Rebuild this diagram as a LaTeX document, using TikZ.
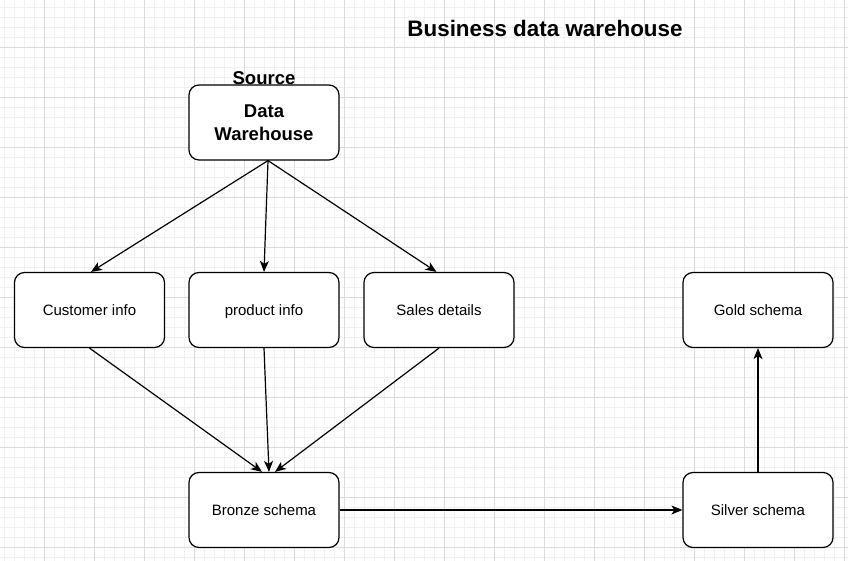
\documentclass[tikz,border=0pt]{standalone}
\usepackage{fontspec}
\setmainfont{Liberation Sans}
\usepackage{xcolor}
\usetikzlibrary{arrows.meta, positioning}
\definecolor{minorgrid}{RGB}{241,241,241}
\definecolor{majorgrid}{RGB}{220,220,220}
\tikzset{
  layerbox/.style={draw, line width=1.2pt, rounded corners=10pt, minimum width=150pt, minimum height=75pt,
    fill=white, font=\fontsize{15}{18}\selectfont, align=center},
  textbox/.style={layerbox, text height=13pt, text depth=2pt},
  flow/.style={draw, line width=1.2pt, -{Stealth[length=11pt, width=9pt, inset=3pt]}}
}

\begin{document}
\begin{tikzpicture}[x=1pt, y=-1pt]
\useasboundingbox (0,0) rectangle (848,561);
% Background grid
\foreach \gx in {4,14,...,844} \draw[minorgrid, line width=0.8pt] (\gx,0) -- (\gx,561);
\foreach \gy in {7.7,17.7,...,560} \draw[minorgrid, line width=0.8pt] (0,\gy) -- (848,\gy);
\foreach \gx in {44,94,...,844} \draw[majorgrid, line width=0.8pt] (\gx,0) -- (\gx,561);
\foreach \gy in {47.7,97.7,...,560} \draw[majorgrid, line width=0.8pt] (0,\gy) -- (848,\gy);

% Title
\node[font=\fontsize{22.4}{26}\selectfont\bfseries] (title) at (545,28) {Business data warehouse};

% Source layer
\node[layerbox, font=\fontsize{18.5}{23}\selectfont\bfseries] (dw) at (264,122.5) {Data\\Warehouse};
\node[font=\fontsize{18.5}{22}\selectfont\bfseries] (source) at (264,78) {Source};
\node[textbox] (customer) at (89.5,310) {Customer info};
\node[textbox] (product) at (264,310) {product info};
\node[textbox] (sales) at (439,310) {Sales details};

% Schema layers
\node[textbox] (bronze) at (264,510) {Bronze schema};
\node[textbox] (silver) at (758,510) {Silver schema};
\node[textbox] (gold) at (758,310) {Gold schema};

% Arrows
\draw[flow] ([xshift=4pt]dw.south) -- ([xshift=1.5pt]customer.north);
\draw[flow] ([xshift=4pt]dw.south) -- (product.north);
\draw[flow] ([xshift=4pt]dw.south) -- ([xshift=-2.5pt]sales.north);
\draw[flow] (customer.south) -- ([xshift=-2pt]bronze.north);
\draw[flow] (product.south) -- ([xshift=5pt]bronze.north);
\draw[flow] (sales.south) -- ([xshift=11pt]bronze.north);
\draw[flow] (bronze.east) -- (silver.west);
\draw[flow] (silver.north) -- (gold.south);
\end{tikzpicture}
\end{document}
